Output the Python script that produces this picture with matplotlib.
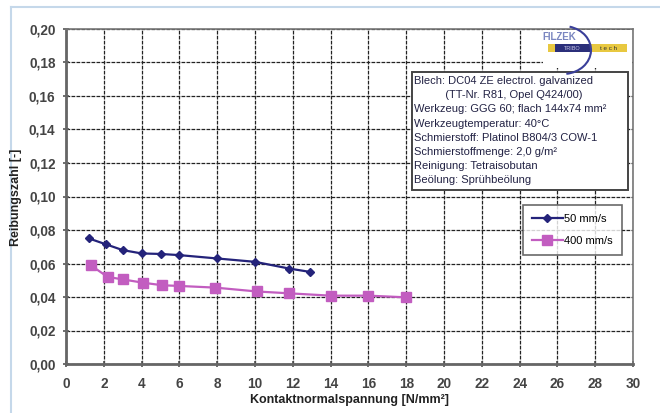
import matplotlib
matplotlib.use("Agg")
import matplotlib.pyplot as plt
from matplotlib.patches import Rectangle, Arc
from matplotlib.ticker import MultipleLocator, FuncFormatter

plt.rcParams['font.family'] = ['Liberation Sans', 'DejaVu Sans']

# data
x_50 = [1.2, 2.1, 3.0, 4.0, 5.0, 6.0, 8.0, 10.0, 11.8, 12.9]
y_50 = [0.075, 0.0715, 0.068, 0.066, 0.0657, 0.065, 0.063, 0.061, 0.057, 0.055]
x_400 = [1.3, 2.2, 3.0, 4.1, 5.1, 6.0, 7.9, 10.1, 11.8, 14.0, 16.0, 18.0]
y_400 = [0.059, 0.052, 0.0505, 0.0485, 0.047, 0.0466, 0.0456, 0.0433, 0.0422, 0.0408, 0.0408, 0.0398]
labels = ["50 mm/s", "400 mm/s"]

info_lines = [
    "Blech: DC04 ZE electrol. galvanized",
    "          (TT-Nr. R81, Opel Q424/00)",
    "Werkzeug: GGG 60; flach 144x74 mm²",
    "Werkzeugtemperatur: 40°C",
    "Schmierstoff: Platinol B804/3 COW-1",
    "Schmierstoffmenge: 2,0 g/m²",
    "Reinigung: Tetraisobutan",
    "Beölung: Sprühbeölung",
]

W, H = 660, 413
fig = plt.figure(figsize=(6.6, 4.13), dpi=100)

def fx(px):
    return px / W

def fy(py):
    return 1 - py / H

ax = fig.add_axes([fx(66), fy(364), fx(633) - fx(66), fy(29) - fy(364)])

blue = "#24237a"
pink = "#c25dc0"
ax.plot(x_50, y_50, color=blue, lw=1.6, marker="D", ms=4.5, label=labels[0], zorder=3)
ax.plot(x_400, y_400, color=pink, lw=1.6, marker="s", ms=6.5, label=labels[1], zorder=3)

ax.set_xlim(0, 30)
ax.set_ylim(0, 0.20)
ax.xaxis.set_major_locator(MultipleLocator(2))
ax.yaxis.set_major_locator(MultipleLocator(0.02))
ax.yaxis.set_major_formatter(FuncFormatter(lambda v, p: f"{v:.2f}".replace(".", ",")))
ax.grid(True, color="#222222", ls=(0, (3, 1)), lw=0.9)
ax.tick_params(direction="inout", length=5, width=1.2, color="#555555",
               labelsize=9.8, labelcolor="#444444")
ax.tick_params(axis="x", pad=7)
ax.tick_params(axis="y", pad=5)
for lab in ax.get_xticklabels() + ax.get_yticklabels():
    lab.set_fontweight("bold")
for side in ["left", "bottom"]:
    ax.spines[side].set_color("#666666")
    ax.spines[side].set_linewidth(2)
for side in ["top", "right"]:
    ax.spines[side].set_color("#777777")
    ax.spines[side].set_linewidth(1.2)

fig.text(fx(349), fy(400), "Kontaktnormalspannung [N/mm²]", ha="center", va="center",
         fontsize=9, fontweight="bold", color="#222222")
fig.text(fx(16), fy(197), "Reibungszahl [-]", ha="center", va="center", rotation=90,
         fontsize=9, fontweight="bold", color="#222222")

leg = ax.legend(loc="upper left", bbox_to_anchor=((523 - 66) / 567, 1 - (205 - 29) / 335),
                borderaxespad=0, frameon=True, fancybox=False, edgecolor="#444444",
                fontsize=8, handlelength=2.8, labelspacing=1.1, borderpad=0.8,
                handletextpad=0.1)
leg.get_frame().set_linewidth(1.2)

# info box
fig.patches.append(Rectangle((fx(412), fy(190)), fx(628) - fx(412), fy(72) - fy(190),
                             transform=fig.transFigure, facecolor="white",
                             edgecolor="#444444", lw=1.4, zorder=5))
for i, line in enumerate(info_lines):
    fig.text(fx(414), fy(81 + i * 14.2), line, ha="left", va="center", fontsize=8,
             color="#222244", zorder=6)

# logo
fig.patches.append(Rectangle((fx(543), fy(68)), fx(632) - fx(543), fy(30) - fy(68),
                             transform=fig.transFigure, facecolor="white",
                             edgecolor="none", zorder=5))
fig.patches.append(Rectangle((fx(548), fy(52)), fx(627) - fx(548), fy(44) - fy(52),
                             transform=fig.transFigure, facecolor="#e8c840",
                             edgecolor="none", zorder=6))
fig.patches.append(Rectangle((fx(555), fy(52)), fx(590) - fx(555), fy(44) - fy(52),
                             transform=fig.transFigure, facecolor="#2b2f7a",
                             edgecolor="none", zorder=7))
fig.text(fx(572), fy(48), "TRIBO", ha="center", va="center", fontsize=4,
         color="#c8c8e8", zorder=8)
fig.text(fx(608), fy(48), "t e c h", ha="center", va="center", fontsize=4.5,
         color="#333333", zorder=8)
fig.text(fx(559), fy(37), "FILZEK", ha="center", va="center", fontsize=7,
         fontweight="bold", color="#7a86c0", zorder=8)
fig.patches.append(Arc((fx(563), fy(50)), fx(56), 48 / H, theta1=-85, theta2=80,
                       transform=fig.transFigure, color="#3a3f9a", lw=1.5, zorder=8))

# screenshot frame
fig.add_artist(plt.Line2D([fx(11), fx(11)], [fy(7), 0], transform=fig.transFigure,
                          color="#c5d8ea", lw=1.5))
fig.add_artist(plt.Line2D([fx(11), 1], [fy(7), fy(7)], transform=fig.transFigure,
                          color="#c5d8ea", lw=1.5))

fig.savefig("out.png", dpi=100)
